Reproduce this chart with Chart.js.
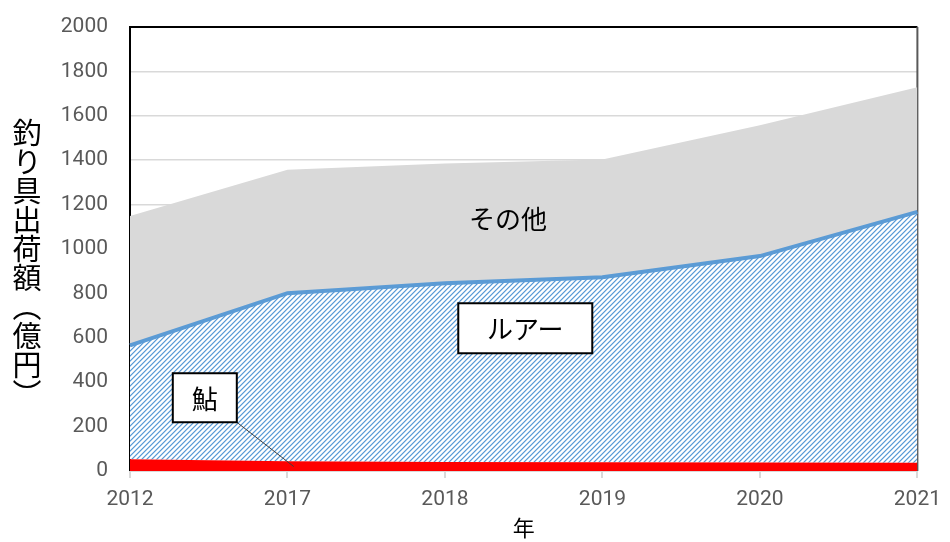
<!DOCTYPE html>
<html>
<head>
<meta charset="utf-8">
<script src="https://cdn.jsdelivr.net/npm/chart.js@4/dist/chart.umd.min.js"></script>
<style>
  body { margin: 0; background: #fff; }
  #wrap { position: relative; width: 950px; height: 542px; }
  #yTitle {
    position: absolute; left: 12px; top: 118px;
    writing-mode: vertical-rl; font-family: "Noto Sans CJK JP", sans-serif;
    font-size: 29px; line-height: 1; color: #000;
  }
</style>
</head>
<body>
<div id="wrap">
  <canvas id="chart" width="950" height="542"></canvas>
  <div id="yTitle">釣り具出荷額︵億円︶</div>
</div>
<script>
// 年ごとの釣り具出荷額（億円）を積み上げで表示
const years = ["2012", "2017", "2018", "2019", "2020", "2021"];
const ayu = [53, 44, 41, 39, 38, 37];
const lure = [513, 757, 805, 834, 930, 1130];
const others = [583, 556, 539, 530, 589, 562];
const yTicks = [0, 200, 400, 600, 800, 1000, 1200, 1400, 1600, 1800, 2000];

// ラベルの位置はデータ座標（x はカテゴリ番号、y は値）
const labelItems = [
  { text: "その他", x: 2.40, y: 1140, box: false },
  { text: "ルアー", x: 2.51, y: 643, box: true, w: 134, h: 50 },
  { text: "鮎", x: 0.475, y: 330, box: true, w: 64, h: 49, leaderTo: [1.04, 20] },
];

const blue = "#5b9bd5";

// 斜線のハッチング（Excel 風）
function makeHatch() {
  const n = 5;
  const c = document.createElement("canvas");
  c.width = n; c.height = n;
  const g = c.getContext("2d");
  const img = g.createImageData(n, n);
  const cols = [[0x5b, 0x9b, 0xd5], [0xb0, 0xd0, 0xee], [255, 255, 255], [255, 255, 255], [0xd4, 0xe5, 0xf5]];
  for (let y = 0; y < n; y++) {
    for (let x = 0; x < n; x++) {
      const i = (y * n + x) * 4;
      const col = cols[(x + y) % n];
      img.data[i] = col[0];
      img.data[i + 1] = col[1];
      img.data[i + 2] = col[2];
      img.data[i + 3] = 255;
    }
  }
  g.putImageData(img, 0, 0);
  return document.getElementById("chart").getContext("2d").createPattern(c, "repeat");
}

// プロット枠（塗りの下に描く）
const frame = {
  id: "frame",
  beforeDatasetsDraw(chart) {
    const { ctx, chartArea: a } = chart;
    ctx.save();
    ctx.lineWidth = 2;
    ctx.strokeStyle = "#000";
    ctx.beginPath();
    ctx.moveTo(a.left, a.bottom);
    ctx.lineTo(a.left, a.top);
    ctx.lineTo(a.right, a.top);
    ctx.stroke();
    ctx.strokeStyle = "#595959";
    ctx.beginPath();
    ctx.moveTo(a.right, a.top);
    ctx.lineTo(a.right, a.bottom);
    ctx.stroke();
    ctx.restore();
  },
};

const labels = {
  id: "labels",
  afterDatasetsDraw(chart) {
    const { ctx } = chart;
    const xs = chart.scales.x, ys = chart.scales.y;
    ctx.save();
    ctx.font = '26px "Noto Sans CJK JP", sans-serif';
    ctx.textAlign = "center";
    ctx.textBaseline = "middle";
    labelItems.forEach((it) => {
      const px = xs.getPixelForValue(it.x);
      const py = ys.getPixelForValue(it.y);
      if (it.leaderTo) {
        ctx.strokeStyle = "#404040";
        ctx.lineWidth = 1;
        ctx.beginPath();
        ctx.moveTo(px + it.w / 2, py + it.h / 2);
        ctx.lineTo(xs.getPixelForValue(it.leaderTo[0]), ys.getPixelForValue(it.leaderTo[1]));
        ctx.stroke();
      }
      if (it.box) {
        ctx.fillStyle = "#fff";
        ctx.fillRect(px - it.w / 2, py - it.h / 2, it.w, it.h);
        ctx.strokeStyle = "#000";
        ctx.lineWidth = 2;
        ctx.strokeRect(px - it.w / 2, py - it.h / 2, it.w, it.h);
      }
      ctx.fillStyle = "#000";
      ctx.fillText(it.text, px, py + 1);
    });
    ctx.restore();
  },
};

const chart = new Chart(document.getElementById("chart"), {
  type: "line",
  data: {
    labels: years,
    datasets: [
      {
        label: "鮎",
        data: ayu,
        fill: "origin",
        backgroundColor: "#ff0000",
        borderColor: "#ff0000",
        borderWidth: 0,
        pointRadius: 0,
        tension: 0,
      },
      {
        label: "ルアー",
        data: lure,
        fill: "-1",
        backgroundColor: makeHatch(),
        borderColor: blue,
        borderWidth: 4,
        pointRadius: 0,
        tension: 0,
      },
      {
        label: "その他",
        data: others,
        fill: "-1",
        backgroundColor: "#d9d9d9",
        borderColor: "#d9d9d9",
        borderWidth: 0,
        pointRadius: 0,
        tension: 0,
      },
    ],
  },
  options: {
    responsive: false,
    animation: false,
    layout: { padding: { top: 27, right: 30, left: 0, bottom: 0 } },
    plugins: { legend: { display: false }, tooltip: { enabled: false } },
    scales: {
      x: {
        offset: false,
        grid: { drawOnChartArea: false, drawTicks: true, tickLength: 7, tickColor: "#d9d9d9", lineWidth: 2 },
        border: { color: "#d9d9d9", width: 2 },
        ticks: { color: "#595959", font: { family: "Roboto", size: 21 }, padding: 9, maxRotation: 0 },
        title: { display: true, text: "年", color: "#000", font: { family: "Noto Sans CJK JP", size: 22 }, padding: { top: 0, bottom: 1 } },
        afterFit(s) { s.height = 71; },
      },
      y: {
        stacked: true,
        min: 0,
        max: 2000,
        afterBuildTicks(s) { s.ticks = yTicks.map((v) => ({ value: v })); },
        grid: { color: "#d9d9d9", lineWidth: 1.5, drawTicks: false },
        border: { display: false },
        ticks: { color: "#595959", font: { family: "Roboto", size: 21 }, padding: 22, callback: (v) => String(v) },
        afterFit(s) {
          s.width = 130;
          s.paddingTop = 0;
          s.paddingBottom = 0;
        },
      },
    },
  },
  plugins: [frame, labels],
});
</script>
</body>
</html>
